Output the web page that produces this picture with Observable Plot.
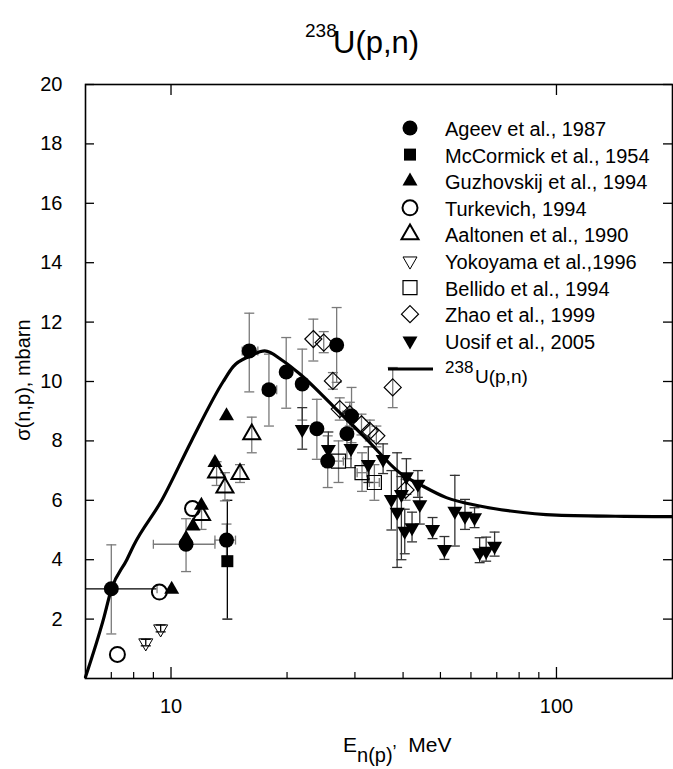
<!DOCTYPE html>
<html><head><meta charset="utf-8">
<script src="https://cdn.jsdelivr.net/npm/d3@7"></script>
<script src="https://cdn.jsdelivr.net/npm/@observablehq/plot@0.6"></script>
<style>body{margin:0;background:#fff;} #chart svg{display:block;}</style>
</head><body><div id="chart"></div>
<script>
// ---------- data ----------
const ageevE  = [7.0, 10.94, 13.93, 15.96, 17.95, 19.9, 21.9, 23.9, 25.5, 26.9, 28.6, 29.4];
const ageevS  = [3.02, 4.52, 4.66, 11.03, 9.72, 10.32, 9.92, 8.41, 7.32, 11.23, 8.24, 8.84];
const ageevLo = [1.5, 3.6, 4.1, 9.65, 8.5, 9.1, 8.7, 7.38, 6.43, 9.97, 7.4, 7.94];
const ageevHi = [4.5, 5.38, 5.2, 12.3, 10.92, 11.48, 11.09, 9.4, 8.17, 12.49, 9.0, 9.8];
const ageevXLo = [6.0, 9.0, 13.0, 15.3, 17.3, 19.3, null, null, null, null, null, null];
const ageevXHi = [9.2, 13.0, 14.7, 16.8, 18.8, 20.5, null, null, null, null, null, null];

const mccE = [14.0], mccS = [3.95], mccLo = [2.0], mccHi = [6.0];

const guzE = [10.04, 10.94, 11.4, 11.99, 13.0, 13.93];
const guzS = [3.0, 4.72, 5.13, 5.83, 7.27, 8.84];

const turE = [7.26, 9.33, 11.37];
const turS = [0.81, 2.91, 5.72];

const aalE  = [12.0, 13.13, 13.8, 15.1, 16.2];
const aalS  = [5.5, 6.93, 6.43, 6.88, 8.22];
const aalLo = [5.02, 6.5, 5.98, 6.6, 7.6];
const aalHi = [5.8, 7.3, 6.93, 7.2, 8.8];

const yokE  = [8.6, 9.4];
const yokS  = [1.2, 1.67];
const yokLo = [1.1, 1.57];
const yokHi = [1.32, 1.8];

const belE  = [27.2, 31.3, 33.7];
const belS  = [7.32, 6.93, 6.6];
const belLo = [6.6, 6.3, 6.0];
const belHi = [8.0, 7.6, 7.2];
const belXLo = [26.4, 30.4, 32.7];
const belXHi = [28.0, 32.2, 34.7];

const zhaE  = [23.4, 24.9, 26.3, 27.4, 29.1, 31.2, 32.8, 34.1, 37.6, 40.6];
const zhaS  = [11.43, 11.31, 10.02, 9.07, 8.9, 8.56, 8.34, 8.17, 9.8, 6.35];
const zhaLo = [10.69, 10.97, 9.74, 8.7, 8.5, 8.2, 8.0, 7.8, 9.12, 6.0];
const zhaHi = [12.1, 11.68, 10.3, 9.45, 9.3, 8.9, 8.7, 8.5, 10.47, 6.7];

const uosE  = [21.9, 25.6, 29.3, 32.5, 35.5, 37.3, 38.6, 39.6, 40.4, 40.8, 42.2, 43.7, 44.2, 47.7, 51.2, 54.5, 57.9, 61.3, 63.2, 65.7, 69.1];
const uosS  = [8.39, 7.72, 7.75, 7.21, 7.38, 6.03, 5.6, 6.2, 4.96, 6.8, 5.08, 6.55, 5.86, 5.02, 4.35, 5.64, 5.47, 5.42, 4.24, 4.29, 4.46];
const uosLo = [7.72, 7.2, 7.1, 6.6, 6.9, 5.0, 3.74, 4.0, 4.2, 6.2, 4.6, 6.1, 5.2, 4.71, 4.01, 4.46, 5.02, 5.08, 3.9, 3.95, 4.12];
const uosHi = [9.12, 8.3, 8.4, 7.8, 7.9, 7.0, 7.6, 6.8, 5.7, 7.4, 5.6, 7.0, 6.5, 5.42, 4.78, 6.84, 6.03, 5.75, 4.74, 4.76, 4.93];

const curveE = [6.0, 6.68, 7.0, 7.68, 8.0, 9.46, 11.3, 13.66, 14.5, 16.0, 17.5, 19.5, 21.6, 26.3, 32.2, 39.2, 45, 51.8, 63.2, 76, 100, 150, 200];
const curveS = [0.05, 2.0, 3.0, 4.0, 4.48, 6.0, 8.0, 10.0, 10.5, 10.85, 11.03, 10.7, 10.25, 9.18, 8.05, 6.93, 6.48, 6.09, 5.81, 5.64, 5.5, 5.46, 5.45];

const xMajor = [10, 100];
const xMinor = [7, 8, 9, 20, 30, 40, 50, 60, 70, 80, 90];
const yTicks = [2, 4, 6, 8, 10, 12, 14, 16, 18, 20];

const legendLabels = ["Ageev et al., 1987", "McCormick et al., 1954", "Guzhovskij et al., 1994",
  "Turkevich, 1994", "Aaltonen et al., 1990", "Yokoyama et al.,1996", "Bellido et al., 1994",
  "Zhao et al., 1999", "Uosif et al., 2005"];

// ---------- symbols ----------
const sym = fn => ({draw(c, size) { fn(c, Math.sqrt(size / Math.PI)); }});
const circ = sym((c, h) => { c.moveTo(h, 0); c.arc(0, 0, h, 0, 2 * Math.PI); });
const square = sym((c, h) => { c.rect(-h, -h, 2 * h, 2 * h); });
const triUp = sym((c, h) => { const H = h * Math.sqrt(3); c.moveTo(0, -2 * H / 3); c.lineTo(h, H / 3); c.lineTo(-h, H / 3); c.closePath(); });
const triDown = sym((c, h) => { const H = h * Math.sqrt(3); c.moveTo(0, 2 * H / 3); c.lineTo(h, -H / 3); c.lineTo(-h, -H / 3); c.closePath(); });
const diamond = sym((c, h) => { c.moveTo(0, -h); c.lineTo(h, 0); c.lineTo(0, h); c.lineTo(-h, 0); c.closePath(); });
const hcap = sym((c, h) => { c.moveTo(-h, 0); c.lineTo(h, 0); });
const vcap = sym((c, h) => { c.moveTo(0, -h); c.lineTo(0, h); });

const styles = [
  {sym: circ, r: 7.5, fill: "black", stroke: "none", sw: 0},
  {sym: square, r: 6, fill: "black", stroke: "none", sw: 0},
  {sym: triUp, r: 7.5, fill: "black", stroke: "none", sw: 0},
  {sym: circ, r: 7.5, fill: "none", stroke: "black", sw: 2},
  {sym: triUp, r: 8.5, fill: "none", stroke: "black", sw: 2},
  {sym: triDown, r: 7, fill: "none", stroke: "black", sw: 1},
  {sym: square, r: 7, fill: "none", stroke: "black", sw: 1.2},
  {sym: diamond, r: 8.5, fill: "none", stroke: "black", sw: 1.2},
  {sym: triDown, r: 7.5, fill: "black", stroke: "none", sw: 0}
];

const rows = (E, S, lo, hi, xlo, xhi) => E.map((e, i) => ({E: e, S: S[i],
  lo: lo ? lo[i] : null, hi: hi ? hi[i] : null, xlo: xlo ? xlo[i] : null, xhi: xhi ? xhi[i] : null}));

const sets = [
  {d: rows(ageevE, ageevS, ageevLo, ageevHi, ageevXLo, ageevXHi), ec: "#7a7a7a"},
  {d: rows(mccE, mccS, mccLo, mccHi), ec: "black"},
  {d: rows(guzE, guzS), ec: "#7a7a7a"},
  {d: rows(turE, turS), ec: "#7a7a7a"},
  {d: rows(aalE, aalS, aalLo, aalHi), ec: "#7a7a7a"},
  {d: rows(yokE, yokS, yokLo, yokHi), ec: "black"},
  {d: rows(belE, belS, belLo, belHi, belXLo, belXHi), ec: "#7a7a7a"},
  {d: rows(zhaE, zhaS, zhaLo, zhaHi), ec: "#7a7a7a"},
  {d: rows(uosE, uosS, uosLo, uosHi), ec: "#333"}
];
const curve = curveE.map((e, i) => ({E: e, S: curveS[i]}));

// ---------- layout ----------
const W = 673, H = 769, mL = 85, mR = 1, mT = 84, mB = 91;
const fw = W - mL - mR, fh = H - mT - mB;

const marks = [];
sets.forEach((s, k) => {
  const v = s.d.filter(d => d.lo != null);
  const hx = s.d.filter(d => d.xlo != null);
  marks.push(Plot.ruleX(v, {x: "E", y1: "lo", y2: "hi", stroke: s.ec, strokeWidth: 1.3}));
  marks.push(Plot.dot(v, {x: "E", y: "lo", symbol: hcap, r: 5, stroke: s.ec, fill: "none", strokeWidth: 1.3}));
  marks.push(Plot.dot(v, {x: "E", y: "hi", symbol: hcap, r: 5, stroke: s.ec, fill: "none", strokeWidth: 1.3}));
  const hc = k === 0 ? (d => d.xlo === 6.0 ? "black" : s.ec) : s.ec;
  marks.push(Plot.ruleY(hx, {y: "S", x1: "xlo", x2: "xhi", stroke: hc, strokeWidth: 1.3}));
  marks.push(Plot.dot(hx.filter(d => d.xlo > 6.0), {x: "xlo", y: "S", symbol: vcap, r: 4.5, stroke: s.ec, fill: "none", strokeWidth: 1.3}));
  marks.push(Plot.dot(hx, {x: "xhi", y: "S", symbol: vcap, r: 4.5, stroke: s.ec, fill: "none", strokeWidth: 1.3}));
});
sets.forEach((s, k) => {
  const st = styles[k];
  marks.push(Plot.dot(s.d, {x: "E", y: "S", symbol: st.sym, r: st.r, fill: st.fill, stroke: st.stroke, strokeWidth: st.sw}));
});

const chart = Plot.plot({
  width: W, height: H,
  marginLeft: mL, marginRight: mR, marginTop: mT, marginBottom: mB,
  style: {fontFamily: "'Liberation Sans', Arial, sans-serif", fontSize: "20px", background: "white", color: "black", overflow: "visible"},
  x: {type: "log", domain: [6, 200]},
  y: {domain: [0, 20]},
  marks: [
    ...marks,
    Plot.line(curve, {x: "E", y: "S", stroke: "black", strokeWidth: 3.2, curve: "monotone-x"}),
    Plot.ruleX(xMajor, {insetTop: fh - 11, stroke: "black", strokeWidth: 1.3}),
    Plot.ruleX(xMinor, {insetTop: fh - 6, stroke: "black", strokeWidth: 1.2}),
    Plot.ruleX(xMajor, {insetBottom: fh - 11, stroke: "black", strokeWidth: 1.3}),
    Plot.ruleY(yTicks, {insetRight: fw - 9, stroke: "black", strokeWidth: 1.3}),
    Plot.ruleY(yTicks, {insetLeft: fw - 9, stroke: "black", strokeWidth: 1.3}),
    Plot.frame({stroke: "black", strokeWidth: 1.6}),
    Plot.axisX({ticks: xMajor, tickSize: 0, tickPadding: 20, tickFormat: d => String(d), label: null, fontSize: 20}),
    Plot.axisY({ticks: yTicks, tickSize: 0, tickPadding: 23, label: null, fontSize: 20})
  ]
});
document.getElementById("chart").appendChild(chart);

// ---------- titles & legend ----------
const svg = d3.select(chart);
const ff = "'Liberation Sans', Arial, sans-serif";
const txt = (sel) => sel.append("text").attr("font-family", ff).attr("fill", "black").attr("text-anchor", "start");

txt(svg).attr("x", 305).attr("y", 37).attr("font-size", 19).text("238");
txt(svg).attr("x", 333).attr("y", 53).attr("font-size", 31).text("U(p,n)");

txt(svg).attr("transform", "translate(30,380) rotate(-90)").attr("text-anchor", "middle")
  .attr("font-size", 20).text("σ(n,p), mbarn");

const xl = txt(svg).attr("x", 343).attr("y", 752).attr("font-size", 21);
xl.append("tspan").text("E");
xl.append("tspan").attr("dy", 10).attr("font-size", 20).text("n(p)");
xl.append("tspan").attr("dy", -4).attr("font-size", 18).text("’");
xl.append("tspan").attr("dy", -6).text("  MeV");

const lg = svg.append("g");
legendLabels.forEach((lab, i) => {
  const y = 128 + 26.6 * i;
  const st = styles[i];
  const p = d3.path(); st.sym.draw(p, Math.PI * st.r * st.r);
  lg.append("path").attr("transform", `translate(410,${y})`).attr("d", p.toString())
    .attr("fill", st.fill).attr("stroke", st.stroke === "none" ? null : st.stroke).attr("stroke-width", st.sw || null);
  txt(lg).attr("x", 445).attr("y", y + 8).attr("font-size", 20).text(lab);
});
lg.append("line").attr("x1", 388).attr("x2", 433).attr("y1", 369).attr("y2", 369).attr("stroke", "black").attr("stroke-width", 3.2);
txt(lg).attr("x", 445).attr("y", 373).attr("font-size", 17).text("238");
txt(lg).attr("x", 475).attr("y", 383).attr("font-size", 19).text("U(p,n)");
</script></body></html>
